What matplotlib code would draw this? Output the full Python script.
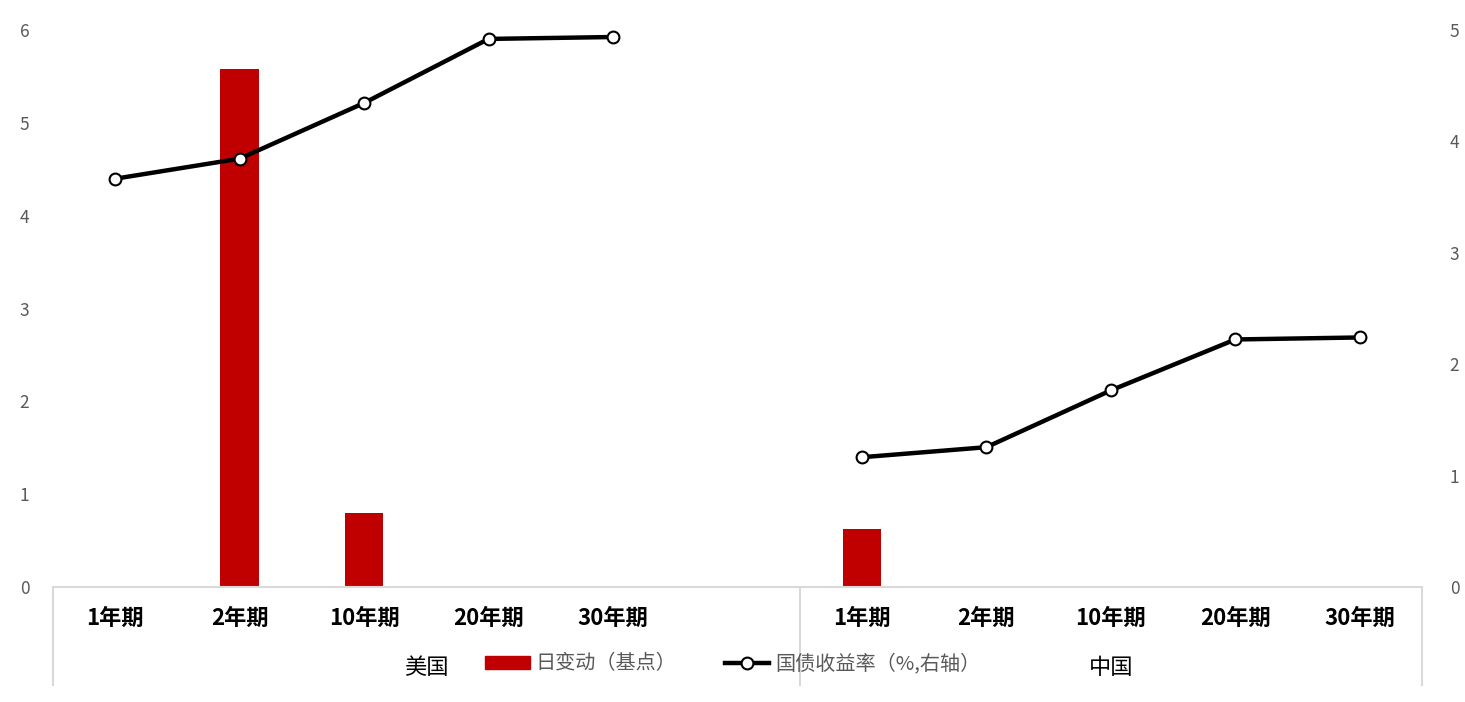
import matplotlib
matplotlib.use("Agg")
import matplotlib.pyplot as plt
import numpy as np
from matplotlib.lines import Line2D
from matplotlib.patches import Patch

plt.rcParams['font.family'] = ['Noto Sans CJK SC', 'DejaVu Sans']

tenors = ["1年期", "2年期", "10年期", "20年期", "30年期"]
groups = ["美国", "中国"]
us_change = [0, 5.58, 0.80, 0, 0]
cn_change = [0.62, 0, 0, 0, 0]
us_yield = [3.665, 3.845, 4.345, 4.92, 4.937]
cn_yield = [1.165, 1.255, 1.765, 2.222, 2.240]

bar_label = "日变动（基点）"
line_label = "国债收益率（%,右轴）"

# slot layout: 5 US, one empty slot, 5 China
x_us = np.arange(5)
x_cn = np.arange(6, 11)
x_all = np.concatenate([x_us, x_cn])
bars = us_change + cn_change

W, H = 1465, 702
fig = plt.figure(figsize=(W / 100, H / 100), dpi=100)
ax = fig.add_axes([53 / W, (H - 587) / H, (1422 - 53) / W, (587 - 30) / H])
ax2 = ax.twinx()

ax.bar(x_all, bars, width=0.31, color="#c00000", zorder=2)
ax2.plot(x_us, us_yield, color="black", lw=3.2, marker="o", ms=8.5,
         mfc="white", mec="black", mew=1.5, zorder=3)
ax2.plot(x_cn, cn_yield, color="black", lw=3.2, marker="o", ms=8.5,
         mfc="white", mec="black", mew=1.5, zorder=3)

ax.set_xlim(-0.5, 10.5)
ax.set_ylim(0, 6)
ax2.set_ylim(0, 5)
ax.set_yticks(range(0, 7))
ax2.set_yticks(range(0, 6))

gray = "#595959"
for a in (ax, ax2):
    for s in a.spines.values():
        s.set_visible(False)
    a.tick_params(axis="y", length=0, labelsize=12.5, labelcolor=gray)
ax.tick_params(axis="y", pad=17)
ax2.tick_params(axis="y", pad=20)
ax.set_xticks([])

# category axis grid
lc = "#d9d9d9"
y0 = (H - 587) / H
y1 = (H - 685) / H
fig.add_artist(Line2D([53 / W, 1422 / W], [y0, y0], color=lc, lw=1.5))
for xp in (53, 800, 1422):
    fig.add_artist(Line2D([xp / W, xp / W], [y0, y1], color=lc, lw=1.5))

# tenor labels
trans = ax.get_xaxis_transform()
for xi, t in zip(x_all, tenors + tenors):
    ax.text(xi, -31 / 557, t, ha="center", va="center", fontsize=16,
            fontweight="bold", color="black", transform=trans, clip_on=False)

# group labels
ax.text(2.5, -80 / 557, groups[0], ha="center", va="center", fontsize=16,
        color="black", transform=trans, clip_on=False)
ax.text(8.0, -80 / 557, groups[1], ha="center", va="center", fontsize=16,
        color="black", transform=trans, clip_on=False)

handles = [Patch(color="#c00000", label=bar_label),
           Line2D([], [], color="black", lw=3.2, marker="o", ms=8.5, mfc="white",
                  mec="black", mew=1.5, label=line_label)]
leg = fig.legend(handles=handles, loc="center", bbox_to_anchor=(733 / W, (H - 664) / H),
                 ncol=2, frameon=False, fontsize=14.5, handlelength=2.2,
                 handleheight=0.6, columnspacing=2.4, handletextpad=0.3)
for t in leg.get_texts():
    t.set_color(gray)

fig.savefig("out.png", dpi=100, facecolor="white")
